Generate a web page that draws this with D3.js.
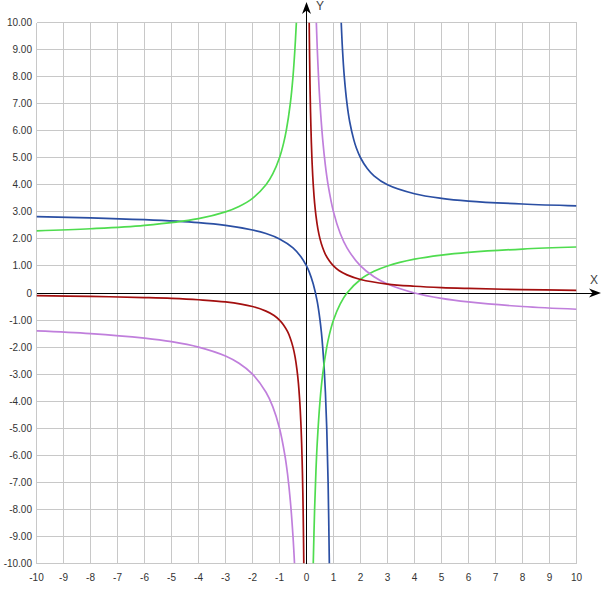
<!DOCTYPE html>
<html>
<head>
<meta charset="utf-8">
<script src="https://cdn.jsdelivr.net/npm/d3@7"></script>
<style>
	body { margin: 0; background: #fff; }
	svg { display: block; font-family: "Liberation Sans", Arial, sans-serif; }
	.tick-label { font-size: 10px; fill: #333; }
	.axis-name { font-size: 12px; fill: #444; }
</style>
</head>
<body>
<div id="chart"></div>
<script>
// tick values for both axes
const xTicks = d3.range(-10, 11);
const yTicks = d3.range(-10, 11);

// points, one array per branch [x, y]
const redLeft = [[-10, -0.1], [-8, -0.125], [-6, -0.17], [-5, -0.2], [-4, -0.25], [-3, -0.33], [-2, -0.5], [-1.5, -0.67], [-1.2, -0.83], [-1, -1], [-0.85, -1.18], [-0.7, -1.43], [-0.6, -1.67], [-0.5, -2], [-0.42, -2.38], [-0.35, -2.86], [-0.3, -3.33], [-0.25, -4], [-0.21, -4.76], [-0.18, -5.56], [-0.15, -6.67], [-0.13, -7.69], [-0.115, -8.7], [-0.1, -10]];
const redRight = [[0.1, 10], [0.115, 8.7], [0.13, 7.69], [0.15, 6.67], [0.18, 5.56], [0.21, 4.76], [0.25, 4], [0.3, 3.33], [0.35, 2.86], [0.42, 2.38], [0.5, 2], [0.6, 1.67], [0.7, 1.43], [0.85, 1.18], [1, 1], [1.2, 0.83], [1.5, 0.67], [2, 0.5], [3, 0.33], [4, 0.25], [5, 0.2], [6, 0.17], [8, 0.125], [10, 0.1]];

const purpleLeft = [[-10, -1.4], [-8, -1.5], [-6, -1.67], [-5, -1.8], [-4, -2], [-3, -2.33], [-2.5, -2.6], [-2, -3], [-1.5, -3.67], [-1.25, -4.2], [-1, -5], [-0.8, -6], [-0.7, -6.71], [-0.6, -7.67], [-0.5, -9], [-0.444, -10]];
const purpleRight = [[0.364, 10], [0.4, 9], [0.45, 7.89], [0.5, 7], [0.6, 5.67], [0.7, 4.71], [0.8, 4], [1, 3], [1.25, 2.2], [1.5, 1.67], [2, 1], [2.5, 0.6], [3, 0.33], [4, 0], [5, -0.2], [6, -0.33], [8, -0.5], [10, -0.6]];

const blueLeft = [[-10, 2.82], [-8, 2.78], [-6, 2.71], [-4, 2.6], [-3, 2.5], [-2, 2.33], [-1.5, 2.2], [-1, 2], [-0.5, 1.67], [-0.2, 1.33], [0, 1], [0.1, 0.78], [0.25, 0.33], [0.4, -0.33], [0.5, -1], [0.55, -1.44], [0.6, -2], [0.65, -2.71], [0.7, -3.67], [0.75, -5], [0.8, -7], [0.846, -10]];
const blueRight = [[1.286, 10], [1.33, 9.06], [1.4, 8], [1.5, 7], [1.6, 6.33], [1.75, 5.67], [1.85, 5.35], [2, 5], [2.25, 4.6], [2.5, 4.33], [3, 4], [4, 3.67], [5, 3.5], [6, 3.4], [8, 3.29], [10, 3.22]];

const greenLeft = [[-10, 2.3], [-8, 2.375], [-6, 2.5], [-4, 2.75], [-3, 3], [-2.5, 3.2], [-2, 3.5], [-1.5, 4], [-1.25, 4.4], [-1, 5], [-0.85, 5.53], [-0.75, 6], [-0.6, 7], [-0.5, 8], [-0.43, 9], [-0.375, 10]];
const greenRight = [[0.25, -10], [0.3, -8], [0.35, -6.57], [0.4, -5.5], [0.5, -4], [0.6, -3], [0.75, -2], [0.85, -1.53], [1, -1], [1.25, -0.4], [1.5, 0], [2, 0.5], [2.5, 0.8], [3, 1], [4, 1.25], [5, 1.4], [6, 1.5], [8, 1.625], [10, 1.7]];

const series = [
	{ color: '#2b4fa3', branches: [blueLeft, blueRight] },
	{ color: '#4fdc4f', branches: [greenLeft, greenRight] },
	{ color: '#c07fdc', branches: [purpleLeft, purpleRight] },
	{ color: '#a30f0f', branches: [redLeft, redRight] }
];

var svg = d3.select('#chart').append('svg').attr('width', 605).attr('height', 597),
    plot = { left: 36.5, right: 576.5, top: 22.5, bottom: 563.5 };

var x = d3.scaleLinear().domain([-10, 10]).range([plot.left, plot.right]),
    y = d3.scaleLinear().domain([-10, 10]).range([plot.bottom, plot.top]);

svg.append('rect').attr('width', 605).attr('height', 597).attr('fill', '#fff');

// grid
var grid = svg.append('g').attr('stroke', '#c8c8c8').attr('stroke-width', 1).attr('shape-rendering', 'crispEdges');
grid.selectAll('.vx')
    .data(xTicks)
  .enter().append('line')
    .attr('x1', d => x(d)).attr('x2', d => x(d))
    .attr('y1', plot.top).attr('y2', plot.bottom);
grid.selectAll('.hy')
    .data(yTicks)
  .enter().append('line')
    .attr('y1', d => y(d)).attr('y2', d => y(d))
    .attr('x1', plot.left).attr('x2', plot.right);

// tick labels
svg.selectAll('.ylab')
    .data(yTicks)
  .enter().append('text')
    .attr('class', 'tick-label')
    .attr('x', plot.left - 4.5)
    .attr('y', d => y(d) + 3.5)
    .attr('text-anchor', 'end')
    .text(d => d === 0 ? '0' : d.toFixed(2));

svg.selectAll('.xlab')
    .data(xTicks)
  .enter().append('text')
    .attr('class', 'tick-label')
    .attr('x', d => x(d))
    .attr('y', plot.bottom + 17)
    .attr('text-anchor', 'middle')
    .text(d => d);

// axes with arrows
var axes = svg.append('g');
axes.append('line')
    .attr('x1', plot.left).attr('x2', 597)
    .attr('y1', y(0)).attr('y2', y(0))
    .attr('stroke', '#000').attr('shape-rendering', 'crispEdges');
axes.append('line')
    .attr('x1', x(0)).attr('x2', x(0))
    .attr('y1', plot.bottom).attr('y2', 5)
    .attr('stroke', '#000').attr('shape-rendering', 'crispEdges');

var ax = 601, ay = y(0);
axes.append('path')
    .attr('d', `M${ax},${ay} L${ax - 12},${ay - 4.5} L${ax - 8.5},${ay} L${ax - 12},${ay + 4.5} Z`)
    .attr('fill', '#000');
var bx = x(0), by = 2;
axes.append('path')
    .attr('d', `M${bx},${by} L${bx - 4.5},${by + 12} L${bx},${by + 8.5} L${bx + 4.5},${by + 12} Z`)
    .attr('fill', '#000');

svg.append('text').attr('class', 'axis-name').attr('x', 594).attr('y', 284).attr('text-anchor', 'middle').text('X');
svg.append('text').attr('class', 'axis-name').attr('x', 320).attr('y', 10).attr('text-anchor', 'middle').text('Y');

// curves
svg.append('clipPath').attr('id', 'plot')
  .append('rect').attr('x', plot.left).attr('y', plot.top).attr('width', plot.right - plot.left).attr('height', plot.bottom - plot.top);

var line = d3.line()
    .x(d => x(d[0]))
    .y(d => y(d[1]))
    .curve(d3.curveCatmullRom.alpha(0.5));

var curves = svg.append('g').attr('clip-path', 'url(#plot)');
series.forEach(s => {
	curves.selectAll(null)
	    .data(s.branches)
	  .enter().append('path')
	    .attr('d', line)
	    .attr('fill', 'none')
	    .attr('stroke', s.color)
	    .attr('stroke-width', 1.7);
});
</script>
</body>
</html>
